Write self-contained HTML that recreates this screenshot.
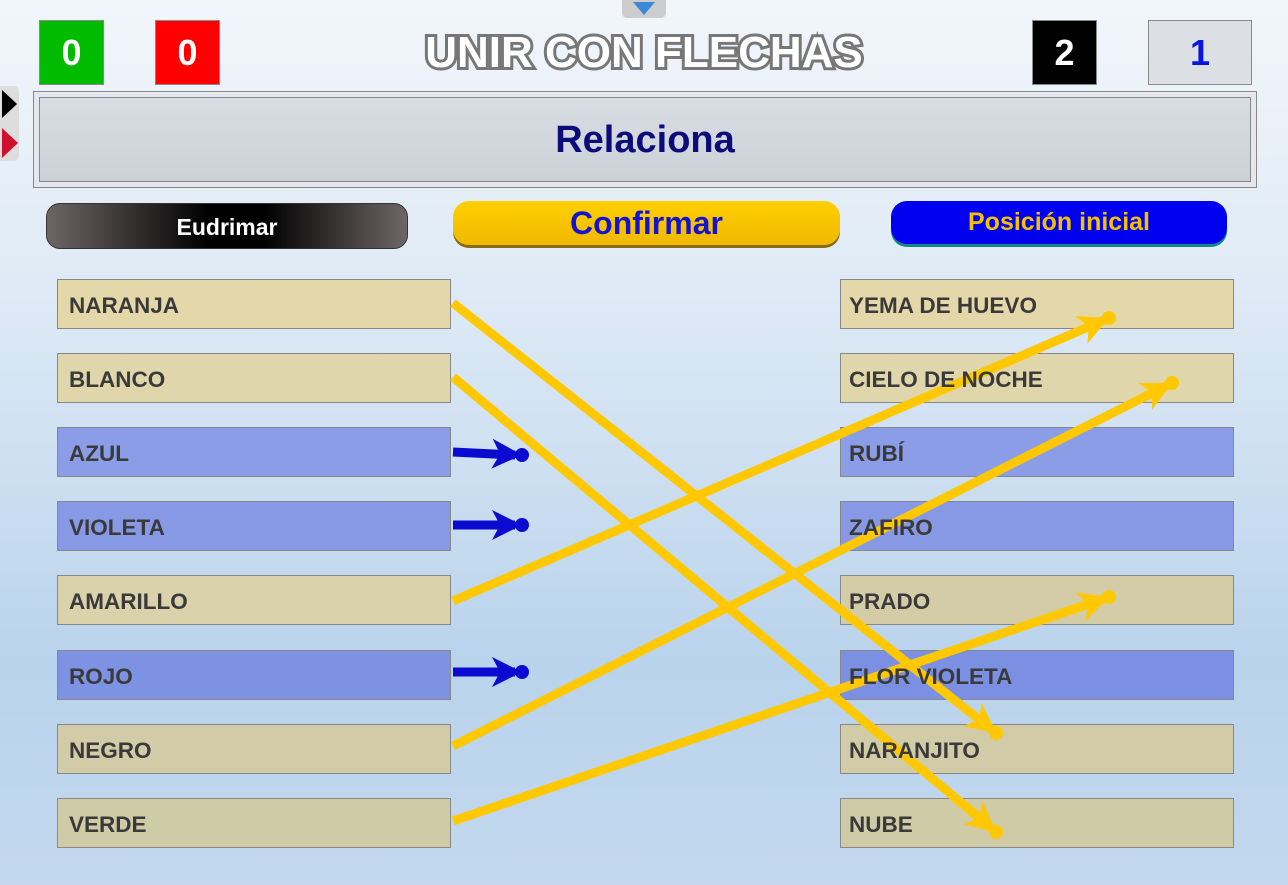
<!DOCTYPE html>
<html><head><meta charset="utf-8"><style>
*{margin:0;padding:0;box-sizing:border-box}
body{width:1288px;height:885px;overflow:hidden;position:relative;font-family:"Liberation Sans",sans-serif;background:linear-gradient(#f2f6fb 0%,#dde9f5 35%,#b9d3ec 75%,#c3d8ee 100%)}
.a{position:absolute}
.sc{position:absolute;top:20px;width:65px;height:65px;font-weight:bold;font-size:36px;display:flex;align-items:center;justify-content:center;border:1px solid #888}
.box{position:absolute;height:50px;width:394px;border:1px solid #888;}
.lbl{position:absolute;font-weight:bold;font-size:22.5px;color:#3a3a3a;line-height:50px;z-index:3;padding-top:2px}
.t{background:#e4d8aa}.b{background:#8a9de6}
</style></head><body>
<div class="a" style="left:622px;top:0;width:44px;height:18px;background:#ccc;border-radius:0 0 5px 5px"></div>
<div class="a" style="left:633px;top:2px;width:0;height:0;border-left:11px solid transparent;border-right:11px solid transparent;border-top:13px solid #3a8ad8"></div>
<div class="sc" style="left:39px;background:#00bb00;color:#fff">0</div>
<div class="sc" style="left:155px;background:#ff0000;color:#fff">0</div>
<div class="sc" style="left:1032px;background:#000;color:#fff">2</div>
<div class="sc" style="left:1148px;width:104px;background:#dcdfe4;color:#0a14e0">1</div>
<div class="a" style="left:0;top:53px;width:1288px;text-align:center;font-size:44px;font-weight:bold;color:#fff;-webkit-text-stroke:6px #777;paint-order:stroke fill;line-height:1;transform:translateY(-50%);letter-spacing:0px">UNIR CON FLECHAS</div>
<div class="a" style="left:0;top:86px;width:19px;height:75px;background:#ddd;border-radius:0 5px 5px 0"></div>
<div class="a" style="left:2px;top:90px;border-top:14px solid transparent;border-bottom:14px solid transparent;border-left:15px solid #000"></div>
<div class="a" style="left:2px;top:128px;border-top:15px solid transparent;border-bottom:15px solid transparent;border-left:16px solid #d0102c"></div>
<div class="a" style="left:33px;top:91px;width:1224px;height:97px;border:1px solid #888;background:#e4e8ee"></div>
<div class="a" style="left:39px;top:97px;width:1212px;height:85px;border:1px solid #888;background:linear-gradient(#d8dce3,#ccd1d8);text-align:center;line-height:85px;font-size:38px;font-weight:bold;color:#0b0b7a">Relaciona</div>
<div class="a" style="left:46px;top:203px;width:362px;height:46px;border:1px solid #333;border-radius:14px;background:linear-gradient(90deg,#6e6666,#000 45%,#000 60%,#6e6666);color:#fff;font-weight:bold;font-size:23px;text-align:center;line-height:46px">Eudrimar</div>
<div class="a" style="left:453px;top:201px;width:387px;height:44px;border-radius:16px;background:linear-gradient(#ffd000,#f0b800);box-shadow:0 3px 0 #8a6a10;color:#1414d0;font-weight:bold;font-size:32px;text-align:center;line-height:44px">Confirmar</div>
<div class="a" style="left:891px;top:201px;width:336px;height:43px;border-radius:16px;background:#0000f0;box-shadow:0 3px 0 #118888;color:#f5c000;font-weight:bold;font-size:25px;text-align:center;line-height:43px">Posición inicial</div>

<div class="box t" style="left:57px;top:279px"></div><div class="lbl" style="left:69px;top:279px">NARANJA</div>
<div class="box t" style="left:57px;top:353px;background:#e0d6ab"></div><div class="lbl" style="left:69px;top:353px">BLANCO</div>
<div class="box b" style="left:57px;top:427px"></div><div class="lbl" style="left:69px;top:427px">AZUL</div>
<div class="box b" style="left:57px;top:501px;background:#8799e4"></div><div class="lbl" style="left:69px;top:501px">VIOLETA</div>
<div class="box t" style="left:57px;top:575px;background:#d9d2aa"></div><div class="lbl" style="left:69px;top:575px">AMARILLO</div>
<div class="box b" style="left:57px;top:650px;background:#7d92e2"></div><div class="lbl" style="left:69px;top:650px">ROJO</div>
<div class="box t" style="left:57px;top:724px;background:#d1cba7"></div><div class="lbl" style="left:69px;top:724px">NEGRO</div>
<div class="box t" style="left:57px;top:798px;background:#d0cba7"></div><div class="lbl" style="left:69px;top:798px">VERDE</div>

<div class="box t" style="left:840px;top:279px"></div><div class="lbl" style="left:849px;top:279px">YEMA DE HUEVO</div>
<div class="box t" style="left:840px;top:353px;background:#e0d6ab"></div><div class="lbl" style="left:849px;top:353px">CIELO DE NOCHE</div>
<div class="box b" style="left:840px;top:427px"></div><div class="lbl" style="left:849px;top:427px">RUBÍ</div>
<div class="box b" style="left:840px;top:501px;background:#8799e4"></div><div class="lbl" style="left:849px;top:501px">ZAFIRO</div>
<div class="box t" style="left:840px;top:575px;background:#d3cca7"></div><div class="lbl" style="left:849px;top:575px">PRADO</div>
<div class="box b" style="left:840px;top:650px;background:#7b90e2"></div><div class="lbl" style="left:849px;top:650px">FLOR VIOLETA</div>
<div class="box t" style="left:840px;top:724px;background:#d1cba7"></div><div class="lbl" style="left:849px;top:724px">NARANJITO</div>
<div class="box t" style="left:840px;top:798px;background:#d0cba7"></div><div class="lbl" style="left:849px;top:798px">NUBE</div>

<svg class="a" style="left:0;top:0;z-index:2" width="1288" height="885">
<g fill="#ffc800" stroke="none">
</g>
<g stroke="#ffc800" stroke-width="9" fill="none" stroke-linecap="butt">
<line x1="453" y1="303" x2="996" y2="733"/>
<line x1="453" y1="377" x2="996" y2="832"/>
<line x1="453" y1="601" x2="1109" y2="318"/>
<line x1="453" y1="746" x2="1172" y2="383"/>
<line x1="453" y1="821" x2="1109" y2="597"/>
</g>
<g fill="#ffc800">
<g transform="translate(996,733) rotate(38.4)"><path d="M-30,-15 L0,0 L-30,15 L-22,0 Z"/><circle r="7"/></g>
<g transform="translate(996,832) rotate(39.9)"><path d="M-30,-15 L0,0 L-30,15 L-22,0 Z"/><circle r="7"/></g>
<g transform="translate(1109,318) rotate(-23.3)"><path d="M-30,-15 L0,0 L-30,15 L-22,0 Z"/><circle r="7"/></g>
<g transform="translate(1172,383) rotate(-26.8)"><path d="M-30,-15 L0,0 L-30,15 L-22,0 Z"/><circle r="7"/></g>
<g transform="translate(1109,597) rotate(-18.9)"><path d="M-30,-15 L0,0 L-30,15 L-22,0 Z"/><circle r="7"/></g>
</g>
<g stroke="#0a0ad0" stroke-width="9">
<line x1="453" y1="452" x2="515" y2="455"/>
<line x1="453" y1="525" x2="515" y2="525"/>
<line x1="453" y1="672" x2="515" y2="672"/>
</g>
<g fill="#0a0ad0">
<g transform="translate(522,455) rotate(2.5)"><path d="M-30,-15 L0,0 L-30,15 L-22,0 Z"/><circle r="7"/></g>
<g transform="translate(522,525)"><path d="M-30,-15 L0,0 L-30,15 L-22,0 Z"/><circle r="7"/></g>
<g transform="translate(522,672)"><path d="M-30,-15 L0,0 L-30,15 L-22,0 Z"/><circle r="7"/></g>
</g>
</svg>
</body></html>
